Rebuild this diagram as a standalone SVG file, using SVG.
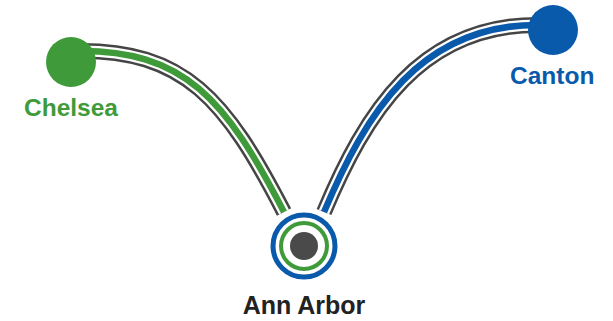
<svg xmlns="http://www.w3.org/2000/svg" width="613" height="321" viewBox="0 0 613 321">
<style>
.casing{fill:none;stroke:#454545;stroke-width:16}
.gap{fill:none;stroke:#ffffff;stroke-width:11}
.g{fill:none;stroke:#3f9b3a;stroke-width:6.5}
.b{fill:none;stroke:#0a5aab;stroke-width:6.5}
.lbl{font-family:"Liberation Sans",Arial,sans-serif;font-weight:bold;font-size:24.5px}
</style>
<rect width="613" height="321" fill="#ffffff"/>
<g id="connectors">
<g id="line-chelsea">
<path class="casing" d="M75 51 C185 49,226 100,284 212"/>
<path class="gap" d="M75 51 C185 49,226 100,284 212"/>
<path class="g" d="M75 51 C185 49,226 100,284 212"/>
</g>
<g id="line-canton">
<path class="casing" d="M545 25 C420 21,365 115,324 212"/>
<path class="gap" d="M545 25 C420 21,365 115,324 212"/>
<path class="b" d="M545 25 C420 21,365 115,324 212"/>
</g>
</g>
<g id="chelsea">
<circle cx="71" cy="62" r="25" fill="#3f9b3a"/>
<text class="lbl" x="24" y="116" fill="#3f9b3a">Chelsea</text>
</g>
<g id="canton">
<circle cx="553" cy="30" r="25" fill="#0a5aab"/>
<text class="lbl" x="510" y="84" fill="#0a5aab">Canton</text>
</g>
<g id="ann-arbor">
<circle cx="304" cy="246" r="31" fill="#ffffff" stroke="#0a5aab" stroke-width="5"/>
<circle cx="304" cy="246" r="23" fill="none" stroke="#3f9b3a" stroke-width="4"/>
<circle cx="304" cy="246" r="14" fill="#4a4a4a"/>
<text class="lbl" x="304" y="314" text-anchor="middle" fill="#222222" style="font-size:25px">Ann Arbor</text>
</g>
</svg>
